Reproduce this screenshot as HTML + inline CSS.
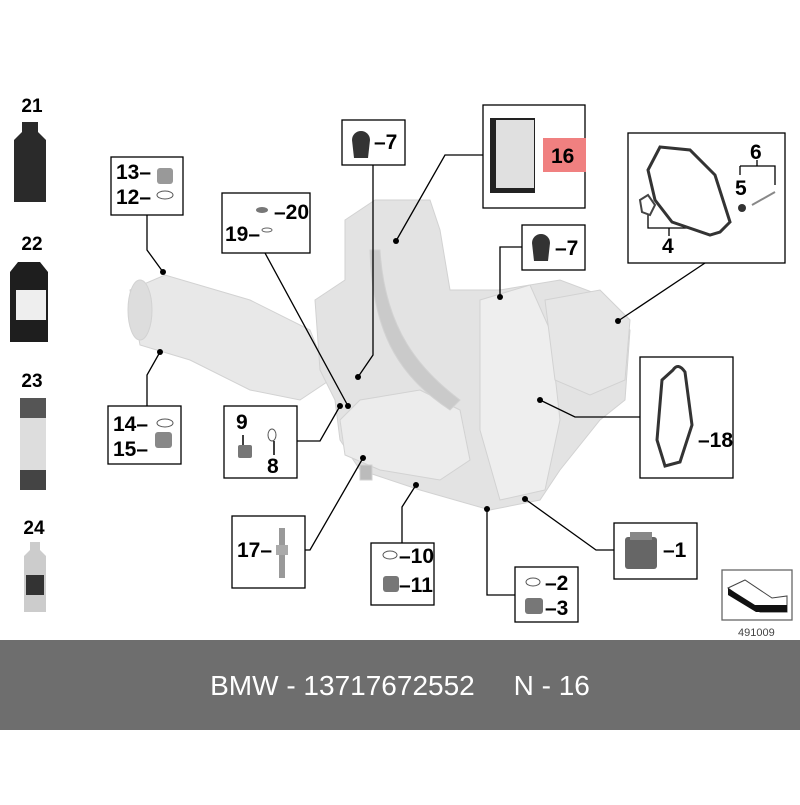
<!DOCTYPE html>
<html><head><meta charset="utf-8"><style>
body{margin:0;width:800px;height:800px;background:#fff;overflow:hidden;font-family:"Liberation Sans",Arial,sans-serif}
</style></head><body>
<svg width="800" height="800" viewBox="0 0 800 800" xmlns="http://www.w3.org/2000/svg" font-family="Liberation Sans, Arial, sans-serif">
<rect width="800" height="800" fill="#fff"/>
<g fill="#e3e3e3" stroke="#d2d2d2" stroke-width="1">
<path d="M130 290 L165 275 L250 300 L310 330 L330 380 L300 400 L250 390 L190 360 L140 345 Z" fill="#e8e8e8"/>
<ellipse cx="140" cy="310" rx="12" ry="30" fill="#ddd"/>
<path d="M345 220 L375 200 L430 200 L440 230 L450 290 L500 290 L560 280 L600 295 L630 330 L625 400 L600 420 L560 470 L540 500 L490 510 L420 490 L360 470 L340 440 L335 400 L320 370 L315 300 L345 280 Z"/>
<path d="M340 420 L360 400 L420 390 L460 410 L470 460 L440 480 L380 470 L345 455 Z" fill="#ececec"/>
<path d="M480 300 L530 285 L550 330 L560 420 L545 490 L500 500 L480 430 Z" fill="#eeeeee"/>
<path d="M545 300 L600 290 L630 320 L625 380 L590 395 L555 380 Z" fill="#e6e6e6"/>
<path d="M380 250 C385 330 420 370 460 400 L450 410 C405 380 372 340 370 250 Z" fill="#cacaca"/>
<rect x="360" y="465" width="12" height="15" fill="#bbb"/>
</g>
<g font-size="19" font-weight="bold" fill="#000" text-anchor="middle">
<text x="32" y="112">21</text><text x="32" y="250">22</text><text x="32" y="387">23</text><text x="34" y="534">24</text>
</g>
<path d="M22 122 h16 v10 l8 8 v62 h-32 v-62 l8 -8 Z" fill="#2a2a2a"/>
<path d="M18 262 h22 l8 10 v70 h-38 v-70 Z" fill="#1e1e1e"/><rect x="16" y="290" width="30" height="30" fill="#eee"/>
<rect x="20" y="398" width="26" height="92" rx="3" fill="#ddd"/><rect x="20" y="398" width="26" height="20" fill="#555"/><rect x="20" y="470" width="26" height="20" fill="#444"/>
<path d="M30 542 h10 v8 l6 6 v56 h-22 v-56 l6 -6 Z" fill="#ccc"/><rect x="26" y="575" width="18" height="20" fill="#333"/>
<g fill="none" stroke="#000" stroke-width="1.3">
<rect x="111" y="157" width="72" height="58"/>
<rect x="222" y="193" width="88" height="60"/>
<rect x="342" y="120" width="63" height="45"/>
<rect x="483" y="105" width="102" height="103"/>
<rect x="522" y="225" width="63" height="45"/>
<rect x="628" y="133" width="157" height="130"/>
<rect x="108" y="406" width="73" height="58"/>
<rect x="224" y="406" width="73" height="72"/>
<rect x="640" y="357" width="93" height="121"/>
<rect x="232" y="516" width="73" height="72"/>
<rect x="371" y="543" width="63" height="62"/>
<rect x="515" y="567" width="63" height="55"/>
<rect x="614" y="523" width="83" height="56"/>
<rect x="722" y="570" width="70" height="50" stroke="#666"/>
<path d="M147 215 V250 L163 272"/>
<path d="M147 406 V375 L160 352"/>
<path d="M265 253 L348 406"/>
<path d="M373 165 V355 L358 377"/>
<path d="M483 155 H445 L396 241"/>
<path d="M522 247 H500 V297"/>
<path d="M705 263 L618 321"/>
<path d="M640 417 H575 L540 400"/>
<path d="M297 441 H320 L340 406"/>
<path d="M305 550 H310 L363 458"/>
<path d="M402 543 V507 L416 485"/>
<path d="M515 595 H487 V509"/>
<path d="M614 550 H596 L525 499"/>
<path d="M648 215 V228 H690"/><path d="M740 166 H775 V185"/><path d="M757 166 V160"/><path d="M740 166 V175"/><path d="M669 228 V236"/>
</g>
<g fill="#000">
<circle cx="163" cy="272" r="3"/><circle cx="160" cy="352" r="3"/><circle cx="348" cy="406" r="3"/><circle cx="358" cy="377" r="3"/>
<circle cx="396" cy="241" r="3"/><circle cx="500" cy="297" r="3"/><circle cx="618" cy="321" r="3"/><circle cx="540" cy="400" r="3"/>
<circle cx="340" cy="406" r="3"/><circle cx="363" cy="458" r="3"/><circle cx="416" cy="485" r="3"/><circle cx="487" cy="509" r="3"/><circle cx="525" cy="499" r="3"/>
</g>
<rect x="490" y="118" width="45" height="75" fill="#222"/><rect x="496" y="120" width="38" height="68" fill="#e0e0e0"/>
<rect x="543" y="138" width="43" height="34" fill="#f08080"/>
<path d="M352 140 a9 9 0 0 1 18 0 l-2 18 h-14 Z" fill="#333"/>
<path d="M532 243 a9 9 0 0 1 18 0 l-2 18 h-14 Z" fill="#333"/>
<path d="M660 147 L690 150 L715 175 L730 222 L720 232 L710 235 L672 222 L655 200 L648 170 Z" fill="none" stroke="#333" stroke-width="3"/>
<path d="M640 200 L648 195 L655 205 L650 215 L642 212 Z" fill="none" stroke="#444" stroke-width="2"/>
<circle cx="742" cy="208" r="4" fill="#333"/><path d="M752 205 L775 192" stroke="#888" stroke-width="2"/>
<path d="M673 370 Q678 362 685 372 L692 425 L680 462 L665 466 L657 440 L662 380 Z" fill="none" stroke="#333" stroke-width="3"/>
<rect x="625" y="537" width="32" height="32" rx="3" fill="#666"/><rect x="630" y="532" width="22" height="8" fill="#888"/>
<rect x="525" y="598" width="18" height="16" rx="3" fill="#777"/><ellipse cx="533" cy="582" rx="7" ry="4" fill="none" stroke="#555"/>
<rect x="383" y="576" width="16" height="16" rx="3" fill="#777"/><ellipse cx="390" cy="555" rx="7" ry="4" fill="none" stroke="#555"/>
<rect x="238" y="445" width="14" height="13" rx="2" fill="#777"/><ellipse cx="272" cy="435" rx="4" ry="6" fill="none" stroke="#555"/>
<path d="M243 435 V445 M274 441 V455" stroke="#000" stroke-width="1.5"/>
<rect x="157" y="168" width="16" height="16" rx="3" fill="#999"/><ellipse cx="165" cy="195" rx="8" ry="4" fill="none" stroke="#555"/>
<ellipse cx="165" cy="423" rx="8" ry="4" fill="none" stroke="#555"/><rect x="155" y="432" width="17" height="16" rx="3" fill="#888"/>
<rect x="279" y="528" width="6" height="50" fill="#999"/><rect x="276" y="545" width="12" height="10" fill="#aaa"/>
<ellipse cx="262" cy="210" rx="6" ry="3" fill="#777"/><ellipse cx="267" cy="230" rx="5" ry="2" fill="none" stroke="#666"/>
<path d="M728 588 L745 580 L772 598 L787 596 L787 612 L760 612 Z" fill="none" stroke="#444"/>
<path d="M728 588 L755 605 L787 605 L787 612 L756 612 L728 595 Z" fill="#111"/>
<g font-size="21" font-weight="bold" fill="#000">
<text x="116" y="179">13–</text>
<text x="116" y="204">12–</text>
<text x="274" y="219">–20</text><text x="225" y="241">19–</text>
<text x="374" y="149">–7</text>
<text x="551" y="163">16</text>
<text x="555" y="255">–7</text>
<text x="750" y="159">6</text><text x="735" y="195">5</text><text x="662" y="253">4</text>
<text x="113" y="431">14–</text><text x="113" y="456">15–</text>
<text x="236" y="429">9</text><text x="267" y="473">8</text>
<text x="698" y="447">–18</text>
<text x="237" y="557">17–</text>
<text x="399" y="563">–10</text><text x="399" y="592">–11</text>
<text x="545" y="590">–2</text><text x="545" y="615">–3</text>
<text x="663" y="557">–1</text>
</g>
<text x="738" y="636" font-size="11" fill="#444">491009</text>
<rect x="0" y="640" width="800" height="90" fill="#6e6e6e"/>
<text x="400" y="695" font-size="28" fill="#fff" text-anchor="middle" xml:space="preserve">BMW - 13717672552     N - 16</text>
</svg>
</body></html>
